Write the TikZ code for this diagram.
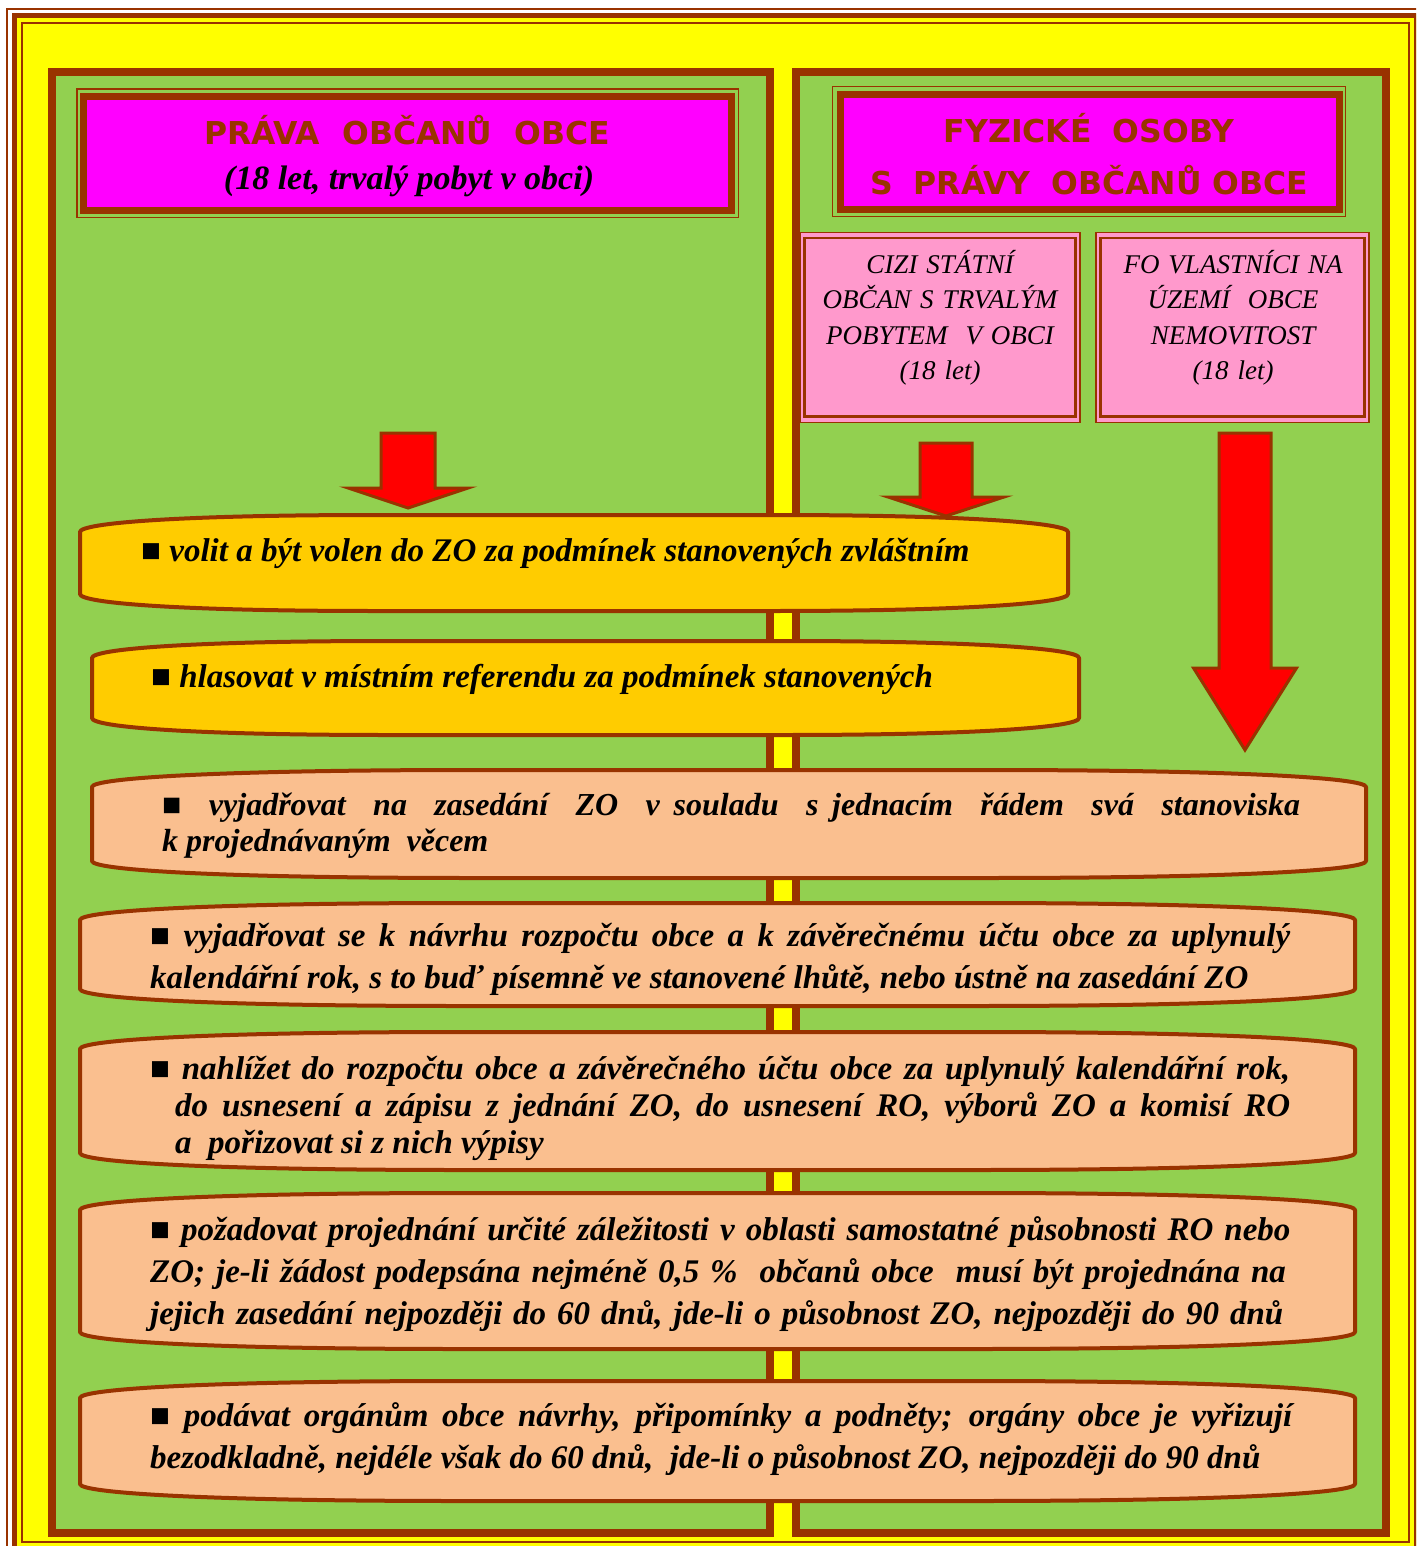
\documentclass[tikz,border=0pt]{standalone}
\usepackage{fontspec}
\setmainfont{Liberation Serif}
\newfontfamily\headfont{DejaVu Sans Bold}
\usetikzlibrary{calc}

\definecolor{frame}{HTML}{993300}
\definecolor{yel}{HTML}{FFFF00}
\definecolor{grn}{HTML}{92D050}
\definecolor{mag}{HTML}{FF00FF}
\definecolor{pnk}{HTML}{FF99CC}
\definecolor{gold}{HTML}{FFCC00}
\definecolor{peach}{HTML}{FABF8F}

\newcommand\sqbullet{{\upshape ■}}

\tikzset{
  panel/.style={draw=frame, fill=grn, line width=8pt},
  thinframe/.style={draw=frame, line width=1.5pt},
  titlebox/.style={draw=frame, fill=mag, line width=7pt},
  pinkbox/.style={draw=frame, fill=pnk, line width=1.5pt},
  pinkinner/.style={draw=frame, line width=2.5pt},
  capsule/.style={draw=frame, line width=4pt, line join=round},
  blockarrow/.style={draw=frame, fill=red, line width=3pt, line join=miter},
  headtext/.style={anchor=base, inner sep=0pt, text=frame,
    font=\headfont\fontsize{31.5}{52}\selectfont},
  notetext/.style={anchor=base, inner sep=0pt,
    font=\fontsize{34}{36}\selectfont\bfseries\itshape},
  pinktext/.style={anchor=base, inner sep=0pt, text width=270pt, align=center,
    font=\fontsize{27}{35.5}\selectfont\itshape},
  bodytext/.style={anchor=base west, inner sep=0pt,
    font=\fontsize{33}{42}\selectfont\bfseries\itshape}
}

\begin{document}
\begin{tikzpicture}[x=1pt, y=-1pt]
  \useasboundingbox (0,0) rectangle (1416,1546);
  \clip (0,0) rectangle (1416,1546);
  \fill[white] (0,0) rectangle (1416,1546);

  % outer frame
  \fill[yel] (12,14) rectangle (1419,1551);
  \draw[thinframe] (7,9) rectangle (1424,1556);
  \draw[frame, line width=5pt] (14.5,16) rectangle (1416.5,1548.5);
  \draw[frame, line width=2pt] (22,23) rectangle (1409,1542);

  % two green panels
  \draw[panel] (52,72.5) rectangle (769.5,1532.5);
  \draw[panel] (796,72.5) rectangle (1386,1532.5);

  % headings
  \draw[thinframe] (77,89) rectangle (738.5,217.5);
  \draw[titlebox] (83.5,96.5) rectangle (731,211);
  \draw[thinframe] (832.5,86.5) rectangle (1345.5,216.5);
  \draw[titlebox] (840,94.5) rectangle (1339.5,210);

  \node[headtext] (rights) at (407,145) {PRÁVA\ \ OBČANŮ\ \ OBCE};
  \node[notetext] (rightsnote) at (409,190) {(18 let, trvalý pobyt v obci)};
  \node[headtext, text width=500pt, align=center] (persons) at (1089,143)
    {FYZICKÉ\ \ OSOBY\\S\ \ PRÁVY\ \ OBČANŮ OBCE};

  % pink boxes
  \draw[pinkbox] (800,232.5) rectangle (1080,422.5);
  \draw[pinkinner] (804.5,238) rectangle (1075.5,416.5);
  \draw[pinkbox] (1096,232.5) rectangle (1369,422.5);
  \draw[pinkinner] (1100.5,238) rectangle (1364.5,416.5);

  \node[pinktext] (foreigner) at (940,273)
    {CIZI STÁTNÍ\\OBČAN S TRVALÝM\\POBYTEM\ \ V OBCI\\(18 let)};
  \node[pinktext] (owner) at (1233,273)
    {FO VLASTNÍCI NA\\ÚZEMÍ\ \ OBCE\\NEMOVITOST\\(18 let)};

  % red arrows
  \foreach \xc/\yt/\sw/\yh/\hw/\ytip in {408/433/54/488/120/508,
      946/443/52/497/116/516, 1245/433/52/668/103/750}
    \draw[blockarrow] ({\xc-\sw/2},\yt) -- ({\xc+\sw/2},\yt) -- ({\xc+\sw/2},\yh)
      -- ({\xc+\hw/2},\yh) -- (\xc,\ytip) -- ({\xc-\hw/2},\yh)
      -- ({\xc-\sw/2},\yh) -- cycle;

  % rounded boxes
  \foreach \xa/\ya/\xb/\yb/\tone in {80/515/1068/611/gold, 92/641/1079/735/gold,
      92/770/1366/878/peach, 80/903/1355/1006/peach, 80/1032/1355/1170/peach,
      80/1193/1355/1349/peach, 80/1381/1355/1501/peach}
    \draw[capsule, fill=\tone] (\xa,\ya+17)
      .. controls (\xa,\ya+8) and ({\xa+0.1*(\xb-\xa)},\ya) .. ({\xa+0.3*(\xb-\xa)},\ya)
      -- ({\xb-0.3*(\xb-\xa)},\ya)
      .. controls ({\xb-0.1*(\xb-\xa)},\ya) and (\xb,\ya+8) .. (\xb,\ya+17)
      -- (\xb,\yb-17)
      .. controls (\xb,\yb-8) and ({\xb-0.1*(\xb-\xa)},\yb) .. ({\xb-0.3*(\xb-\xa)},\yb)
      -- ({\xa+0.3*(\xb-\xa)},\yb)
      .. controls ({\xa+0.1*(\xb-\xa)},\yb) and (\xa,\yb-8) .. (\xa,\yb-17)
      -- cycle;

  \node[bodytext] (vote) at (141,561)
    {\sqbullet\ volit a být volen do ZO za podmínek stanovených zvláštním};
  \node[bodytext] (referendum) at (151,687)
    {\sqbullet\ hlasovat v místním referendu za podmínek stanovených};
  \node[bodytext, text width=1138pt, align=justify,
    font=\fontsize{32}{36}\selectfont\bfseries\itshape] (speak) at (162,815)
    {\sqbullet\ \ vyjadřovat\ \ na\ \ zasedání\ \ ZO\ \ v~souladu\ \ s~jednacím\ \ řádem\ \ svá\ \ stanoviska\linebreak
     k~projednávaným\ \ věcem};
  \node[bodytext, text width=1140pt, align=justify] (budget) at (150,946)
    {\sqbullet\ vyjadřovat se k~návrhu rozpočtu obce a k~závěrečnému účtu obce za uplynulý\linebreak
     kalendářní rok, s to buď písemně ve stanovené lhůtě, nebo ústně na zasedání ZO};
  \node[bodytext, text width=1140pt, align=justify,
    font=\fontsize{33}{37}\selectfont\bfseries\itshape] (inspect) at (150,1079)
    {\sqbullet\ nahlížet do rozpočtu obce a závěrečného účtu obce za uplynulý kalendářní rok,\linebreak
     \hspace*{25pt}do usnesení a zápisu z~jednání ZO, do usnesení RO, výborů ZO a komisí RO\linebreak
     \hspace*{25pt}a\ \ pořizovat si z~nich výpisy};
  \node[bodytext, text width=1200pt, align=left] (request) at (150,1240)
    {\sqbullet\ požadovat projednání určité záležitosti v~oblasti samostatné působnosti RO nebo\\
     ZO; je-li žádost podepsána nejméně 0,5~\%\ \ občanů obce\ \ musí být projednána na\\
     jejich zasedání nejpozději do 60 dnů, jde-li o působnost ZO, nejpozději do 90 dnů};
  \node[bodytext, text width=1142pt, align=justify] (submit) at (150,1426)
    {\sqbullet\ podávat orgánům obce návrhy, připomínky a podněty; orgány obce je vyřizují\linebreak
     bezodkladně, nejdéle však do 60 dnů,\ \ jde-li o působnost ZO, nejpozději do 90 dnů};
\end{tikzpicture}
\end{document}
